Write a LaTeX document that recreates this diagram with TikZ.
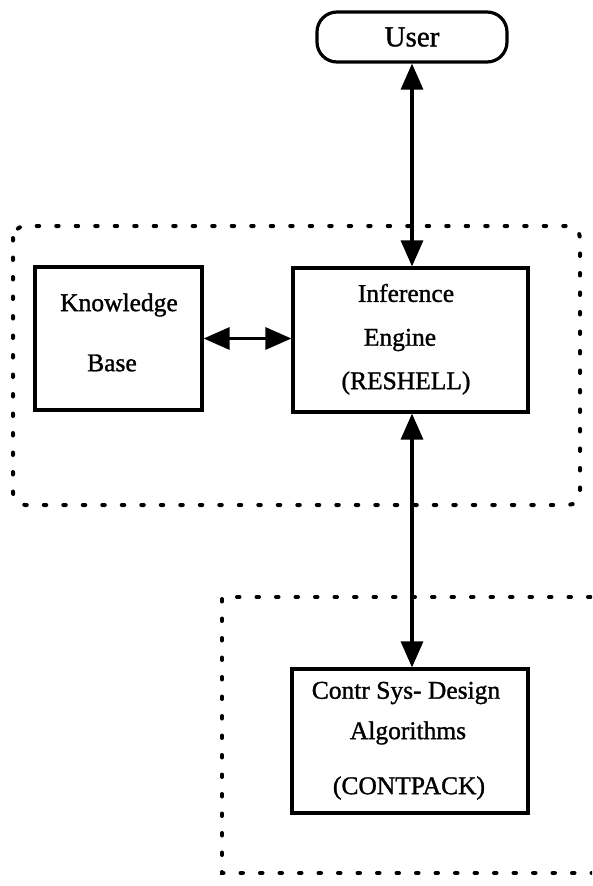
\documentclass[tikz,border=0pt]{standalone}
\usepackage{fontspec}
\setmainfont{Liberation Serif}[FakeBold=1.2]
\usetikzlibrary{arrows.meta,calc}

\tikzset{
  x=1pt, y=-1pt,
  block/.style={draw, line width=3.2pt, minimum width=#1, inner sep=0pt},
  userbox/.style={draw, line width=3.2pt, rounded corners=20pt, minimum width=190pt,
                  minimum height=50pt, inner sep=0pt, font=\fontsize{29}{32}\selectfont},
  label/.style={font=\fontsize{25.5}{29}\selectfont, inner sep=0pt, anchor=center},
  link/.style={line width=3.2pt, {Triangle[length=26pt,width=22pt]}-{Triangle[length=26pt,width=22pt]}},
  group/.style={line width=4pt, line cap=round, dash pattern=on 2.5pt off 17pt}
}

\begin{document}
\begin{tikzpicture}
  \useasboundingbox (0,0) rectangle (592,886);
  \clip (0,0) rectangle (592,886);
  \fill[white] (0,0) rectangle (592,886);

  % grouping outlines
  \draw[group, rounded corners=12pt] (13,226) rectangle (580,505);
  \draw[group] (610,597) -- (222,597) -- (222,873) -- (610,873);

  % user terminal
  \node[userbox] (user) at (412,37) {User};

  % knowledge base
  \node[block=167pt, minimum height=143pt] (kb) at (118.5,338.5) {};
  \node[label] (kbA) at (119,305) {Knowledge};
  \node[label] (kbB) at (112,363) {Base};

  % inference engine
  \node[block=235pt, minimum height=144pt] (ie) at (410.5,340) {};
  \node[label] (ieA) at (406,293) {Inference};
  \node[label] (ieB) at (400,340) {Engine};
  \node[label] (ieC) at (406,383) {(RESHELL)};

  % design algorithms
  \node[block=236pt, minimum height=144pt] (cs) at (410,741) {};
  \node[label] (csA) at (406,693) {Contr Sys- Design};
  \node[label] (csB) at (408,733) {Algorithms};
  \node[label] (csC) at (409,788) {(CONTPACK)};

  % connectors
  \draw[link] (user.south) -- (user.south |- ie.north);
  \draw[link] (kb.east) -- (kb.east -| ie.west);
  \draw[link] (ie.south -| user.south) -- (cs.north -| user.south);
\end{tikzpicture}
\end{document}
